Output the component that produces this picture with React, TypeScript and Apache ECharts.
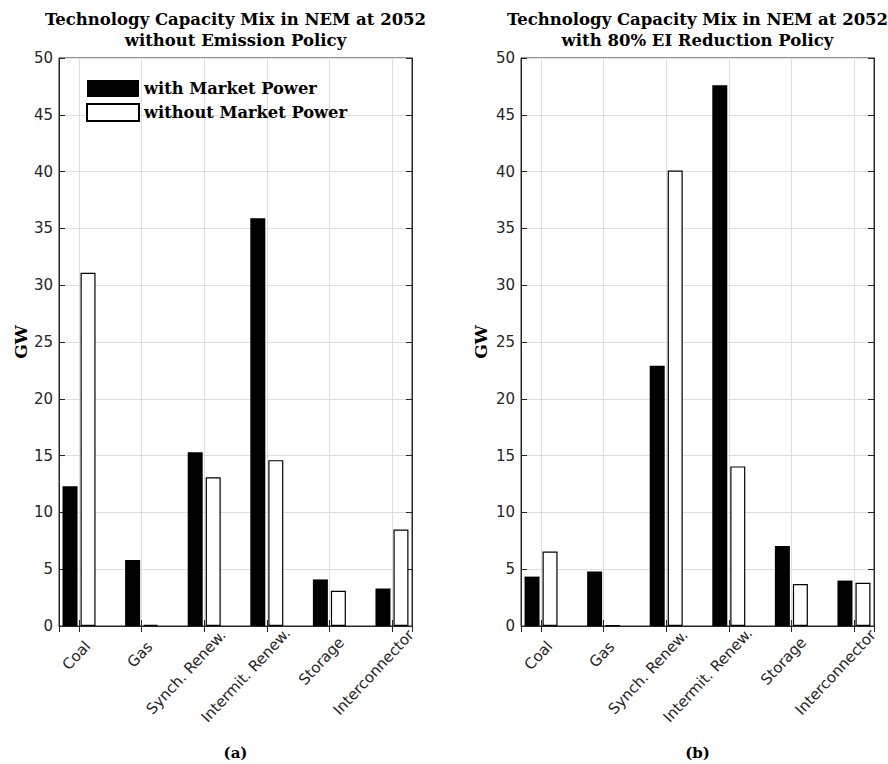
import React, { useEffect, useRef } from "react";
import * as echarts from "echarts";

const categories = ["Coal", "Gas", "Synch. Renew.", "Intermit. Renew.", "Storage", "Interconnector"];
const seriesNames = ["with Market Power", "without Market Power"];
const noPolicyWithMP = [12.3, 5.8, 15.3, 35.9, 4.1, 3.3];
const noPolicyWithoutMP = [31.1, 0.1, 13.1, 14.6, 3.1, 8.5];
const eiWithMP = [4.35, 4.8, 22.9, 47.6, 7.05, 4.0];
const eiWithoutMP = [6.55, 0.05, 40.1, 14.05, 3.7, 3.8];
const yTicks = { min: 0, max: 50, interval: 5 };
const titles = [
  "Technology Capacity Mix in NEM at 2052\nwithout Emission Policy",
  "Technology Capacity Mix in NEM at 2052\nwith 80% EI Reduction Policy",
];
const panelLabels = ["(a)", "(b)"];

const AXIS = "#262626";
const GRIDC = "#dedede";
const SANS = "DejaVu Sans";
const SERIF = "DejaVu Serif";
const LABEL_SIZE = 15;

const toXY = (vals: number[]) => vals.map((v, i) => [i + 1, v]);

function measure(text: string, font: string): number {
  const c = document.createElement("canvas");
  const ctx = c.getContext("2d");
  if (!ctx) return text.length * 8;
  ctx.font = font;
  return ctx.measureText(text).width;
}

export default function App() {
  const ref = useRef<HTMLDivElement>(null);
  useEffect(() => {
    document.body.style.margin = "0";
    if (!ref.current) return;
    const chart = echarts.init(ref.current, null, { renderer: "svg" });
    const grids = [
      { left: 59, top: 58, width: 353, height: 568 },
      { left: 521, top: 58, width: 353, height: 568 },
    ];
    const nameGaps = [30, 32];
    // rotated labels overshoot their tick along the baseline, proportionally to their length
    const rich: any = {};
    categories.forEach((c, i) => {
      const w = measure(c, `${LABEL_SIZE}px "${SANS}"`);
      const s = 0.2 * w + 6;
      rich["r" + i] = {
        fontFamily: SANS,
        fontSize: LABEL_SIZE,
        color: AXIS,
        padding: [0, -s, 0, 0],
      };
    });
    const xAxis: any[] = [];
    const yAxis: any[] = [];
    grids.forEach((_, g) => {
      const base = {
        type: "value",
        gridIndex: g,
        min: 0.68,
        max: 6.32,
        minInterval: 1,
        maxInterval: 1,
      };
      xAxis.push({
        ...base,
        position: "bottom",
        axisLine: { show: true, lineStyle: { color: AXIS, width: 1 } },
        axisTick: { show: true, inside: true, length: 6, lineStyle: { color: AXIS } },
        axisLabel: {
          show: true,
          rotate: 47,
          margin: 26.7,
          color: AXIS,
          fontFamily: SANS,
          fontSize: LABEL_SIZE,
          showMinLabel: false,
          showMaxLabel: false,
          rich,
          formatter: (v: number) => {
            const i = Math.round(v);
            return Math.abs(v - i) < 1e-6 && i >= 1 && i <= categories.length
              ? `{r${i - 1}|${categories[i - 1]}}`
              : "";
          },
        },
        splitLine: { show: true, lineStyle: { color: GRIDC, width: 1 } },
      });
      xAxis.push({
        ...base,
        position: "top",
        axisLine: { show: false },
        axisTick: { show: true, inside: true, length: 6, lineStyle: { color: AXIS } },
        axisLabel: { show: false },
        splitLine: { show: false },
      });
      yAxis.push({
        type: "value",
        gridIndex: g,
        position: "left",
        ...yTicks,
        name: "GW",
        nameLocation: "middle",
        nameGap: nameGaps[g],
        nameRotate: 90,
        nameTextStyle: { fontFamily: SERIF, fontWeight: "bold", fontSize: 17, color: "#000" },
        axisLine: { show: true, lineStyle: { color: AXIS, width: 1 } },
        axisTick: { show: true, inside: true, length: 6, lineStyle: { color: AXIS } },
        axisLabel: { color: AXIS, fontFamily: SANS, fontSize: LABEL_SIZE, margin: 6 },
        splitLine: { show: true, lineStyle: { color: GRIDC, width: 1 } },
      });
      yAxis.push({
        type: "value",
        gridIndex: g,
        position: "right",
        ...yTicks,
        axisLine: { show: true, lineStyle: { color: AXIS, width: 1 } },
        axisTick: { show: true, inside: true, length: 6, lineStyle: { color: AXIS } },
        axisLabel: { show: false },
        splitLine: { show: false },
      });
    });
    const data = [
      [noPolicyWithMP, noPolicyWithoutMP],
      [eiWithMP, eiWithoutMP],
    ];
    const series: any[] = [];
    data.forEach((pair, g) => {
      pair.forEach((vals, s) => {
        series.push({
          type: "bar",
          name: seriesNames[s],
          xAxisIndex: g * 2,
          yAxisIndex: g * 2,
          data: toXY(vals),
          barWidth: 15,
          barGap: "20%",
          itemStyle:
            s === 0
              ? { color: "#000", borderColor: "#000", borderWidth: 0 }
              : { color: "#fff", borderColor: "#000", borderWidth: 1.2 },
        });
      });
    });
    const option: any = {
      animation: false,
      backgroundColor: "#fff",
      textStyle: { fontFamily: SANS },
      grid: grids.map((g) => ({ ...g, show: true, borderColor: AXIS, borderWidth: 1, backgroundColor: "transparent" })),
      title: [
        ...titles.map((t, i) => ({
          text: t,
          left: grids[i].left + grids[i].width / 2,
          top: 9,
          padding: 0,
          textAlign: "center",
          textStyle: { fontFamily: SERIF, fontWeight: "bold", fontSize: 16.5, lineHeight: 21, color: "#000" },
        })),
        ...panelLabels.map((t, i) => ({
          text: t,
          left: grids[i].left + grids[i].width / 2,
          top: 745,
          padding: 0,
          textAlign: "center",
          textStyle: { fontFamily: SERIF, fontWeight: "bold", fontSize: 15, color: "#000" },
        })),
      ],
      legend: {
        data: seriesNames,
        orient: "vertical",
        left: 86,
        top: 80,
        padding: 0,
        itemWidth: 52,
        itemHeight: 17,
        itemGap: 6,
        icon: "rect",
        selectedMode: false,
        textStyle: { fontFamily: SERIF, fontWeight: "bold", fontSize: 16.3, color: "#000" },
      },
      xAxis,
      yAxis,
      series,
    };
    chart.setOption(option);
    return () => chart.dispose();
  }, []);
  return <div ref={ref} style={{ width: 888, height: 764 }} />;
}
